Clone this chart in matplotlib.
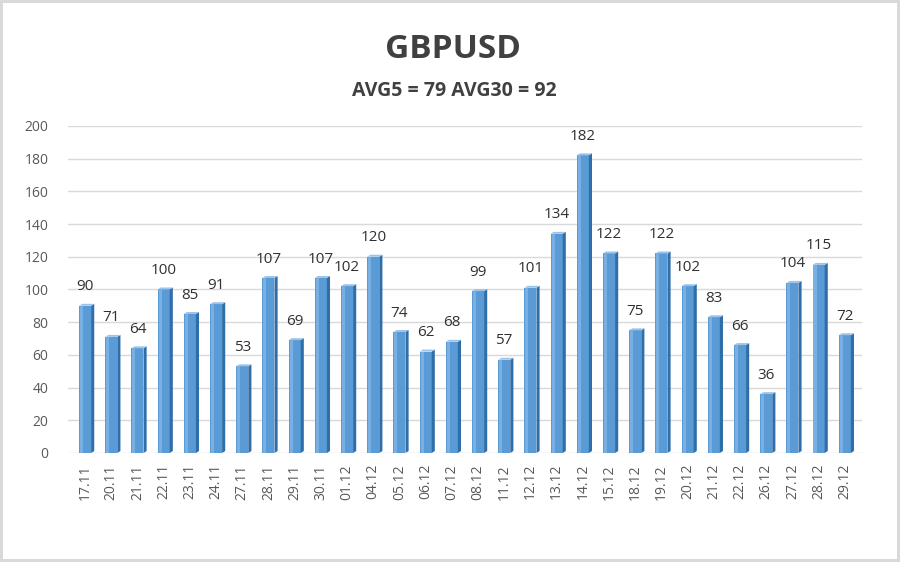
import matplotlib.pyplot as plt
from matplotlib.patches import Polygon

dates = ['17.11', '20.11', '21.11', '22.11', '23.11', '24.11', '27.11', '28.11',
         '29.11', '30.11', '01.12', '04.12', '05.12', '06.12', '07.12', '08.12',
         '11.12', '12.12', '13.12', '14.12', '15.12', '18.12', '19.12', '20.12',
         '21.12', '22.12', '26.12', '27.12', '28.12', '29.12']
values = [90, 71, 64, 100, 85, 91, 53, 107, 69, 107, 102, 120, 74, 62, 68, 99,
          57, 101, 134, 182, 122, 75, 122, 102, 83, 66, 36, 104, 115, 72]

plt.rcParams['font.family'] = ['Open Sans', 'DejaVu Sans']

fig = plt.figure(figsize=(9, 5.62), dpi=100)
fig.patch.set_edgecolor('#d9d9d9')
fig.patch.set_linewidth(4)
ax = fig.add_axes([0.0756, 0.194, 0.882, 0.582])

x = list(range(len(values)))
w = 0.46
d = 0.12   # depth of side face (x units)
dz = 1.2   # depth of top face (y units)

ax.bar(x, values, width=w, color='#5b9bd5', zorder=3)
for xi, v in zip(x, values):
    right = xi + w / 2
    side = Polygon([(right, 0), (right + d, dz), (right + d, v + dz), (right, v)],
                   closed=True, facecolor='#2f6ea8', edgecolor='none', zorder=3)
    top = Polygon([(right - w, v), (right - w + d, v + dz), (right + d, v + dz), (right, v)],
                  closed=True, facecolor='#9cc3ea', edgecolor='none', zorder=3)
    ax.add_patch(side)
    ax.add_patch(top)
    # lighter left highlight on front face
    ax.bar(xi - w * 0.3, v, width=w * 0.25, color='#79b0e3', zorder=3)
    ax.text(xi, v + 7, str(v), ha='center', va='bottom', fontsize=11,
            color='#303030', zorder=4)

ax.set_xlim(-0.65, 29.65)
ax.set_ylim(0, 200)
ax.set_yticks(range(0, 201, 20))
ax.set_xticks(x)
ax.set_xticklabels(dates, rotation=90)
ax.tick_params(axis='both', length=0, labelsize=10, colors='#595959')
ax.tick_params(axis='x', pad=8)
ax.tick_params(axis='y', pad=14)
ax.grid(axis='y', color='#d9d9d9', linewidth=1, zorder=0)
for s in ax.spines.values():
    s.set_visible(False)

fig.text(0.503, 0.912, 'GBPUSD', ha='center', va='center', fontsize=24,
         fontweight='bold', color='#404040')
fig.text(0.505, 0.838, 'AVG5 = 79 AVG30 = 92', ha='center', va='center',
         fontsize=14, fontweight='bold', color='#404040')

fig.savefig('out.png', dpi=100, edgecolor=fig.get_edgecolor())
